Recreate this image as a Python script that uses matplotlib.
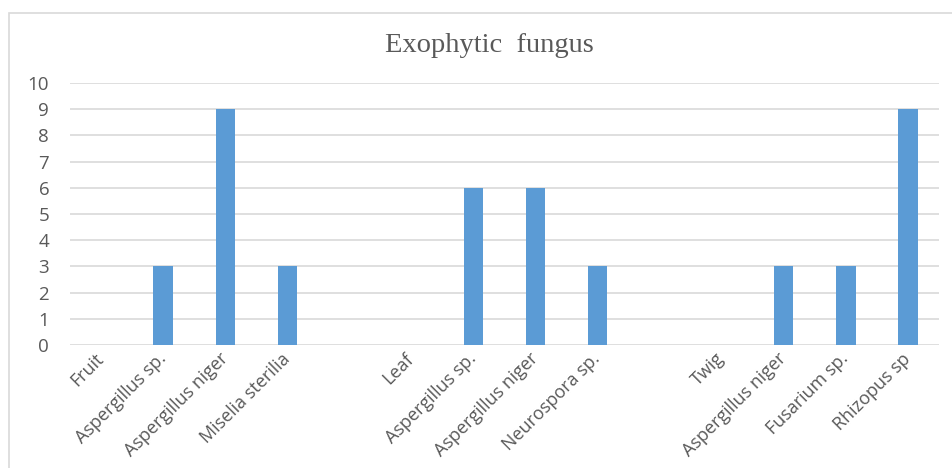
import matplotlib.pyplot as plt
from matplotlib.patches import Rectangle

categories = ['Fruit', 'Aspergillus sp.', 'Aspergillus niger', 'Miselia sterilia', '',
              'Leaf', 'Aspergillus sp.', 'Aspergillus niger', 'Neurospora sp.', '',
              'Twig', 'Aspergillus niger', 'Fusarium sp.', 'Rhizopus sp']
counts = [0, 3, 9, 3, 0,
          0, 6, 6, 3, 0,
          0, 3, 3, 9]

TEXT = '#595959'
GRID = '#D9D9D9'

fig = plt.figure(figsize=(9.53, 4.68), dpi=100)
# chart frame (top & left edges visible)
fig.patches.append(Rectangle((9 / 953, -0.1), 1.2, 1 - 13 / 468 + 0.1,
                             transform=fig.transFigure, fill=False,
                             edgecolor=GRID, lw=1.2))

ax = fig.add_axes([70 / 953, 1 - 345 / 468, (939 - 70) / 953, (345 - 83) / 468])
x = list(range(len(categories)))
ax.bar(x, counts, width=0.31, color='#5B9BD5', zorder=3)

ax.set_xlim(-0.5, len(categories) - 0.5)
ax.set_ylim(0, 10)
ax.set_yticks(range(0, 11))
ax.yaxis.grid(True, color=GRID, lw=1.2)
ax.set_axisbelow(True)
for s in ax.spines.values():
    s.set_visible(False)
ax.tick_params(axis='both', length=0, colors=TEXT)
ax.tick_params(axis='y', pad=15, labelsize=13.5)
ax.set_xticks(x)
ax.set_xticklabels(categories, rotation=45, ha='right', va='center',
                   rotation_mode='anchor', fontfamily='Open Sans', fontsize=13)
ax.tick_params(axis='x', pad=8)
for t in ax.get_yticklabels():
    t.set_fontfamily('Open Sans')

fig.text(489 / 953, 1 - 45 / 468, 'Exophytic  fungus', ha='center', va='center',
         fontfamily='Liberation Serif', fontsize=20.5, color=TEXT)

fig.savefig('out.png', dpi=100)
